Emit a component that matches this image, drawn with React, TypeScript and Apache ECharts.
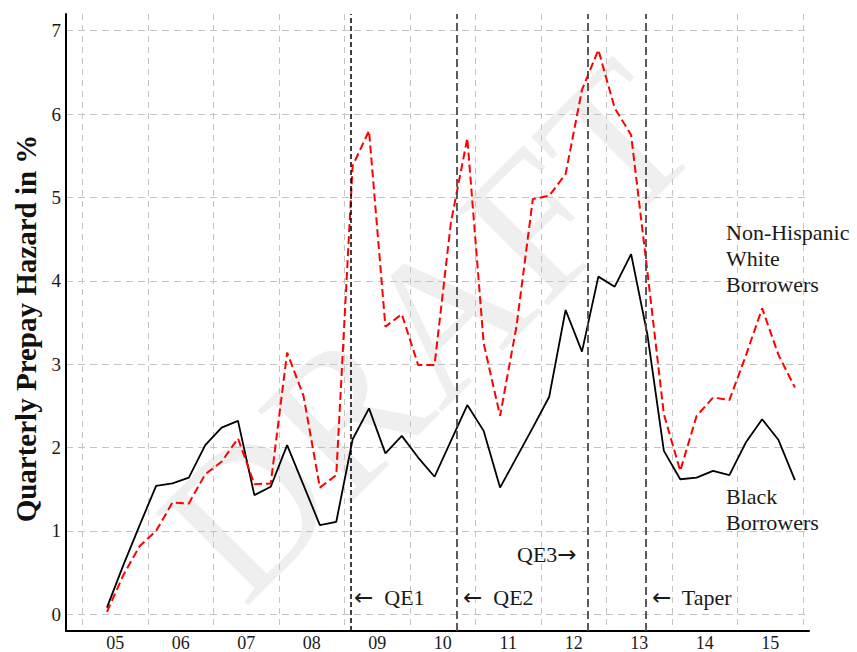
import React, { useEffect, useRef } from "react";
import * as echarts from "echarts";

// Quarterly observations
const quarters = [
  "2005Q2", "2005Q3", "2005Q4",
  "2006Q1", "2006Q2", "2006Q3", "2006Q4",
  "2007Q1", "2007Q2", "2007Q3", "2007Q4",
  "2008Q1", "2008Q2", "2008Q3", "2008Q4",
  "2009Q1", "2009Q2", "2009Q3", "2009Q4",
  "2010Q1", "2010Q2", "2010Q3", "2010Q4",
  "2011Q1", "2011Q2", "2011Q3", "2011Q4",
  "2012Q1", "2012Q2", "2012Q3", "2012Q4",
  "2013Q1", "2013Q2", "2013Q3", "2013Q4",
  "2014Q1", "2014Q2", "2014Q3", "2014Q4",
  "2015Q1", "2015Q2", "2015Q3", "2015Q4",
];

// Quarterly prepay hazard in % – Black borrowers (solid black)
const blackBorrowers = [
  0.08, 0.59, 1.07, 1.54, 1.57, 1.64, 2.03, 2.24, 2.32, 1.43, 1.53,
  2.03, 1.55, 1.07, 1.11, 2.10, 2.47, 1.93, 2.14, 1.88, 1.65, 2.08,
  2.51, 2.20, 1.52, 1.88, 2.24, 2.61, 3.65, 3.15, 4.05, 3.93, 4.32,
  3.35, 1.96, 1.62, 1.64, 1.72, 1.67, 2.06, 2.34, 2.09, 1.61,
];

// Quarterly prepay hazard in % – Non-Hispanic White borrowers (red dashed)
const whiteBorrowers = [
  0.03, 0.47, 0.82, 1.0, 1.34, 1.33, 1.68, 1.83, 2.11, 1.56, 1.57,
  3.14, 2.62, 1.52, 1.67, 5.38, 5.8, 3.45, 3.6, 2.99, 2.99, 4.7,
  5.71, 3.25, 2.38, 3.45, 4.98, 5.02, 5.28, 6.29, 6.77, 6.07, 5.75,
  4.1, 2.4, 1.72, 2.38, 2.6, 2.57, 3.1, 3.67, 3.11, 2.72,
];

// Policy events (vertical dashed lines), in decimal years
const policyLabels = ["QE1", "QE2", "QE3", "Taper"];
const policyDates = [2009.085, 2010.71, 2012.715, 2013.6];

// Axis tick labels
const yearLabels = ["05", "06", "07", "08", "09", "10", "11", "12", "13", "14", "15"];
const yearGrid = [2005, 2006, 2007, 2008, 2009, 2010, 2011, 2012, 2013, 2014, 2015, 2016];
const yTicks = [0, 1, 2, 3, 4, 5, 6, 7];

const SERIF = '"Liberation Serif", "Times New Roman", serif';

function quarterToX(q: string): number {
  const year = Number(q.slice(0, 4));
  const qi = Number(q.slice(5));
  return year + (qi - 0.5) / 4;
}

export default function App() {
  const ref = useRef<HTMLDivElement>(null);

  useEffect(() => {
    if (!ref.current) return;
    const chart = echarts.init(ref.current, undefined, { renderer: "svg" });

    const xs = quarters.map(quarterToX);
    const labelValues = yearLabels.map((l) => 2000 + Number(l) + 0.5);

    const text = (t: string, x: number, y: number) => ({
      type: "text",
      x,
      y,
      z: 100,
      silent: true,
      style: {
        text: t,
        fill: "#1a1a1a",
        font: `22px ${SERIF}`,
        fontFamily: SERIF,
        fontSize: 22,
        align: "left",
        textAlign: "left",
        verticalAlign: "middle",
        textVerticalAlign: "middle",
        rich: {
          a: {
            fontFamily: '"DejaVu Sans", sans-serif',
            fontSize: 23,
            fill: "#1a1a1a",
            color: "#1a1a1a",
          },
        },
      },
    });

    chart.setOption({
      animation: false,
      backgroundColor: "#ffffff",
      grid: { left: 66, right: 48, top: 14, bottom: 18, containLabel: false },
      xAxis: {
        type: "value",
        min: 2004.75,
        max: 2016.09,
        axisLine: { onZero: false, lineStyle: { color: "#000", width: 2 } },
        axisTick: { show: false, customValues: yearGrid },
        splitLine: {
          show: true,
          lineStyle: { color: "#c4c4c4", width: 1, type: [6, 5] },
        },
        axisLabel: {
          customValues: labelValues,
          formatter: (v: number) => yearLabels[Math.round(v - 2005.5)] ?? "",
          color: "#1a1a1a",
          fontFamily: SERIF,
          fontSize: 18,
          margin: 3,
        },
      },
      yAxis: {
        type: "value",
        min: -0.2,
        max: 7.2,
        name: "Quarterly Prepay Hazard in %",
        nameLocation: "middle",
        nameGap: 25,
        nameTextStyle: {
          fontFamily: SERIF,
          fontWeight: "bold",
          fontSize: 29,
          color: "#111",
          padding: [0, 12, 0, 0],
        },
        axisLine: { show: true, lineStyle: { color: "#000", width: 2 } },
        axisTick: { show: false, customValues: yTicks },
        splitLine: {
          show: true,
          lineStyle: { color: "#c4c4c4", width: 1, type: [7, 5] },
        },
        axisLabel: {
          customValues: yTicks,
          color: "#1a1a1a",
          fontFamily: SERIF,
          fontSize: 19,
          margin: 5,
        },
      },
      series: [
        {
          name: "Black Borrowers",
          type: "line",
          data: xs.map((x, i) => [x, blackBorrowers[i]]),
          showSymbol: false,
          symbol: "none",
          lineStyle: { color: "#000", width: 1.8 },
          z: 3,
          markLine: {
            silent: true,
            symbol: ["none", "none"],
            label: { show: false },
            data: policyDates.map((d, i) => ({
              name: policyLabels[i],
              xAxis: d,
              lineStyle:
                i === 0
                  ? { color: "#000", width: 1.5, type: [5, 3] }
                  : { color: "#4a4a4a", width: 1.8, type: [8, 4] },
            })),
          },
        },
        {
          name: "Non-Hispanic White Borrowers",
          type: "line",
          data: xs.map((x, i) => [x, whiteBorrowers[i]]),
          showSymbol: false,
          symbol: "none",
          lineStyle: { color: "#ff0000", width: 2, type: [8, 4] },
          z: 4,
        },
      ],
      graphic: [
        {
          type: "text",
          x: 428,
          y: 330,
          rotation: Math.PI / 4,
          z: -10,
          silent: true,
          style: {
            text: "DRAFT",
            fill: "#efefef",
            font: `200px ${SERIF}`,
            align: "center",
            textAlign: "center",
            verticalAlign: "middle",
            textVerticalAlign: "middle",
          },
        },
        text("{a|\u2190}  QE1", 354, 597),
        text("{a|\u2190}  QE2", 463, 597),
        text("QE3{a|\u2192}", 517, 554),
        text("{a|\u2190}  Taper", 652, 597),
        text("Non-Hispanic", 726, 232),
        text("White", 726, 258),
        text("Borrowers", 726, 284),
        text("Black", 726, 496),
        text("Borrowers", 726, 522),
      ],
    });

    return () => chart.dispose();
  }, []);

  return (
    <div
      ref={ref}
      style={{
        position: "fixed",
        left: 0,
        top: 0,
        width: 857,
        height: 652,
        background: "#fff",
      }}
    />
  );
}
